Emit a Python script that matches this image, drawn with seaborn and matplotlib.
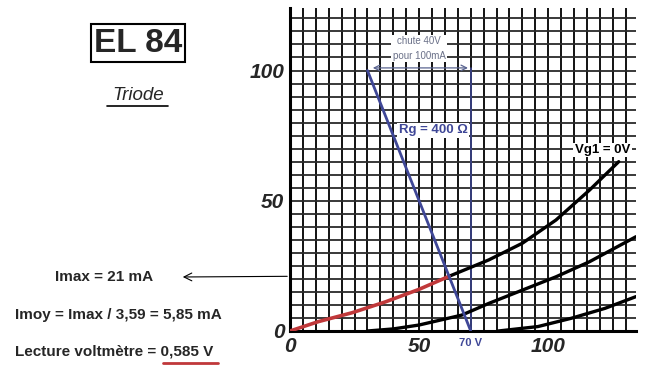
import matplotlib.pyplot as plt
import seaborn as sns
import pandas as pd
import numpy as np

# Anode characteristic curves of the EL84 (triode mode)
va_g0 = [0, 11, 24, 37, 50, 61.6, 77, 90, 103, 116, 127.3]
ia_g0 = [0, 3.6, 7.0, 11.2, 16.0, 21, 27.3, 33.7, 42.6, 54.1, 65]
va_g1 = [30, 40, 50, 66.5, 77, 90, 103, 116, 134]
ia_g1 = [0, 0.8, 2.3, 6.1, 10.6, 15.7, 20.8, 26.6, 36.2]
va_g2 = [80.7, 96, 109, 122, 134]
ia_g2 = [0, 1.7, 4.9, 8.7, 13.2]

# load line Rg = 400 ohm
load_va = [30, 70]
load_ia = [100, 0]

i_max = 21          # operating point current (mA)
v_op = 61.6         # operating point voltage (V)

x_ticks = [0, 50, 100]
y_ticks = [0, 50, 100]

sns.set_style("white")
plt.rcParams['font.family'] = ['Liberation Sans', 'DejaVu Sans']

fig = plt.figure(figsize=(6.5, 3.77), dpi=100)
ax = fig.add_axes([290 / 650, 1 - 331 / 377, 346 / 650, 323 / 377])
ax.set_xlim(0, 134)
ax.set_ylim(0, 124)

# grid every 5 V / 5 mA
for v in np.arange(5, 135, 5):
    ax.axvline(v, color='black', lw=1.3, zorder=1)
for i in np.arange(5, 125, 5):
    ax.axhline(i, color='#2a2a2a', lw=1.3, zorder=1)

for s in ['top', 'right']:
    ax.spines[s].set_visible(False)
for s in ['left', 'bottom']:
    ax.spines[s].set_linewidth(2.2)
    ax.spines[s].set_color('black')

g0 = pd.DataFrame({'va': va_g0, 'ia': ia_g0})
lo = g0[g0['va'] <= v_op]
hi = g0[g0['va'] >= v_op]
sns.lineplot(data=lo, x='va', y='ia', color='#c0383a', lw=2.6, ax=ax, sort=False, zorder=4)
sns.lineplot(data=hi, x='va', y='ia', color='black', lw=2.4, ax=ax, sort=False, zorder=3)
sns.lineplot(x=va_g1, y=ia_g1, color='black', lw=2.4, ax=ax, sort=False, zorder=3)
sns.lineplot(x=va_g2, y=ia_g2, color='black', lw=2.4, ax=ax, sort=False, zorder=3)
sns.lineplot(x=load_va, y=load_ia, color='#3f4797', lw=2.0, ax=ax, sort=False, zorder=5)
# vertical marker at 70 V
ax.plot([70, 70], [0, 101], color='#3f4797', lw=1.1, zorder=2)

ax.set_xlabel('')
ax.set_ylabel('')
ax.set_xticks(x_ticks)
ax.set_yticks(y_ticks)
ax.tick_params(length=0, pad=4)
for lab in ax.get_xticklabels() + ax.get_yticklabels():
    lab.set_fontsize(15)
    lab.set_fontweight('bold')
    lab.set_fontstyle('italic')

# annotations on the chart
ax.annotate('', xy=(load_va[0] + 1, 101), xytext=(70, 101),
            arrowprops=dict(arrowstyle='<->', color='#5a6490', lw=0.9), zorder=6)
ax.text(50, 108.5, 'chute 40V\npour 100mA', fontsize=7, color='#6a7088', ha='center', va='center',
        linespacing=1.6, bbox=dict(facecolor='white', edgecolor='none', pad=1), zorder=6)
ax.text(55.5, 77, 'Rg = 400 Ω', fontsize=9.5, fontweight='bold', color='#3f4797', ha='center',
        va='center', bbox=dict(facecolor='white', edgecolor='none', pad=1), zorder=6)
ax.text(121, 69.5, 'Vg1 = 0V', fontsize=9.5, fontweight='bold', color='black', ha='center',
        va='center', bbox=dict(facecolor='white', edgecolor='none', pad=1), zorder=6)
ax.text(70, -4.5, '70 V', fontsize=8, fontweight='bold', color='#3f4797', ha='center', va='center')

# arrow from the operating point level to the left text
ax.annotate('', xy=(180 / 650, 1 - 277 / 377), xycoords='figure fraction',
            xytext=(0, i_max), textcoords='data',
            arrowprops=dict(arrowstyle='->', color='black', lw=0.8, mutation_scale=14),
            annotation_clip=False)

# title block
fig.text(138 / 650, 1 - 43 / 377, 'EL 84', fontsize=24, fontweight='bold', ha='center', va='center',
         bbox=dict(boxstyle='square,pad=0.1', facecolor='white', edgecolor='black', lw=1.5))
fig.text(138 / 650, 1 - 95 / 377, 'Triode', fontsize=13.5, fontstyle='italic', ha='center', va='center')
fig.add_artist(plt.Line2D([107 / 650, 168 / 650], [1 - 106 / 377, 1 - 106 / 377], color='black', lw=1.2))

# computation text
fig.text(55 / 650, 1 - 277 / 377, 'Imax = 21 mA', fontsize=11, fontweight='bold', va='center')
fig.text(15 / 650, 1 - 315 / 377, 'Imoy = Imax / 3,59 = 5,85 mA', fontsize=11, fontweight='bold', va='center')
fig.text(15 / 650, 1 - 352 / 377, 'Lecture voltmètre = 0,585 V', fontsize=11, fontweight='bold', va='center')
fig.add_artist(plt.Line2D([163 / 650, 218 / 650], [1 - 363 / 377, 1 - 363 / 377], color='#c0383a', lw=2))

fig.savefig('out.png', dpi=100)
plt.close()
